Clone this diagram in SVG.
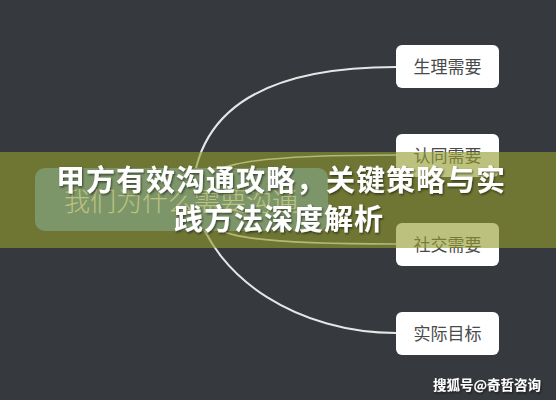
<svg xmlns="http://www.w3.org/2000/svg" width="556" height="400" viewBox="0 0 556 400">
  <defs>
    <style>
      .bg { fill: #36393e; }
      .box { fill: #ffffff; }
      .boxtext { font-family: "Noto Sans CJK SC", "Noto Sans", sans-serif; font-size: 17px; fill: #4a4a4a; text-anchor: middle; }
      .center { fill: #5a8cc8; }
      .centertext { font-family: "Noto Sans CJK SC", "Noto Sans", sans-serif; font-size: 26px; font-weight: 300; fill: #ffffff; text-anchor: middle; }
      .main { fill: none; stroke: #e6e6e6; stroke-width: 2; }
      .inner { fill: none; stroke: #e6e6e6; stroke-width: 1.6; }
      .band { fill: #939d2f; fill-opacity: 0.62; }
      .title { font-family: "Noto Sans CJK SC", "Noto Sans", sans-serif; font-size: 29px; font-weight: 700; fill: #ffffff; text-anchor: middle; letter-spacing: 1px; }
      .wm { font-family: "Noto Sans CJK SC", "Noto Sans", sans-serif; font-size: 13.5px; font-weight: 700; fill: #ffffff; }
    </style>
    <filter id="shadow" x="-10%" y="-30%" width="120%" height="160%">
      <feDropShadow dx="1" dy="1.5" stdDeviation="1" flood-color="#000000" flood-opacity="0.55"/>
    </filter>
  </defs>
  <rect class="bg" x="0" y="0" width="556" height="400"/>

  <g id="connectors">
    <path class="main" d="M 192 200 Q 195 67 396 67"/>
    <path class="main" d="M 195 205 C 215 280, 300 333, 396 333"/>
    <path class="inner" d="M 195 200 C 200 165, 230 155, 396 155"/>
    <path class="inner" d="M 195 200 C 200 235, 230 244, 396 244"/>
  </g>

  <g id="center-node">
    <rect class="center" x="35" y="168" width="293" height="63" rx="10"/>
    <text class="centertext" x="181" y="211">我们为什么需要沟通</text>
  </g>

  <g id="node-1">
    <rect class="box" x="396" y="45" width="103" height="43" rx="6"/>
    <text class="boxtext" x="447.5" y="72.5">生理需要</text>
  </g>
  <g id="node-2">
    <rect class="box" x="396" y="134" width="103" height="43" rx="6"/>
    <text class="boxtext" x="447.5" y="161.5">认同需要</text>
  </g>
  <g id="node-3">
    <rect class="box" x="396" y="223" width="103" height="43" rx="6"/>
    <text class="boxtext" x="447.5" y="250.5">社交需要</text>
  </g>
  <g id="node-4">
    <rect class="box" x="396" y="312" width="103" height="43" rx="6"/>
    <text class="boxtext" x="447.5" y="339.5">实际目标</text>
  </g>

  <rect class="band" x="0" y="152" width="556" height="96"/>

  <g id="title" filter="url(#shadow)">
    <text class="title" x="281" y="191">甲方有效沟通攻略，关键策略与实</text>
    <text class="title" x="279" y="230">践方法深度解析</text>
  </g>

  <text class="wm" x="433" y="390" filter="url(#shadow)">搜狐号@奇哲咨询</text>
</svg>
